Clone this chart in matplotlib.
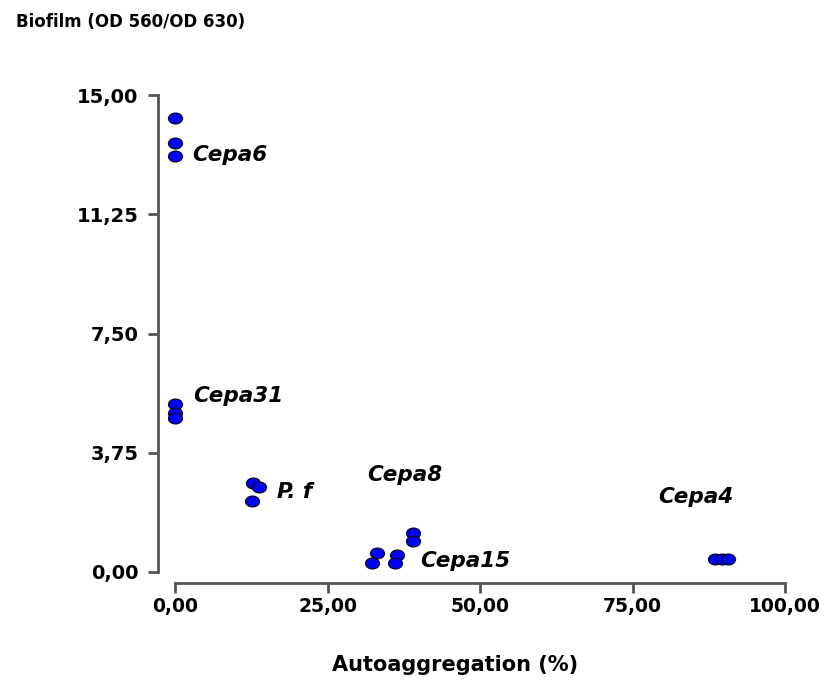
import numpy as np
import matplotlib
matplotlib.use('Agg')
import matplotlib.pyplot as plt
from matplotlib.path import Path
from matplotlib.transforms import Affine2D

plt.rcParams['font.family'] = ['DejaVu Sans']

##################################################################
# Data
##################################################################
cepa6_x = [0.0, 0.0, 0.0]
cepa6_y = [14.28, 13.49, 13.08]

cepa31_x = [0.0, 0.0, 0.0]
cepa31_y = [5.28, 5.00, 4.84]

pf_x = [12.8, 13.8, 12.6]
pf_y = [2.80, 2.67, 2.22]

cepa15_x = [33.1, 32.3, 36.4, 36.1]
cepa15_y = [0.60, 0.28, 0.53, 0.28]

cepa8_x = [39.0, 39.0]
cepa8_y = [1.23, 0.97]

cepa4_x = [88.5, 89.6, 90.6]
cepa4_y = [0.41, 0.41, 0.41]

labels = ['Cepa6', 'Cepa31', 'P. f', 'Cepa8', 'Cepa15', 'Cepa4']
label_x = [2.8, 3.0, 16.7, 31.5, 40.2, 79.2]
label_y = [13.11, 5.53, 2.52, 3.05, 0.35, 2.36]

xticks = [0, 25, 50, 75, 100]
yticks = [0, 3.75, 7.5, 11.25, 15]

##################################################################
# Plot figure
##################################################################
fig = plt.figure(figsize=(8.29, 6.91), dpi=100)
ax = fig.add_axes([158/829, 1-583/691, (790-158)/829, (583-90)/691])

# ellipse marker, wider than tall
ellipse = Path.unit_circle().transformed(Affine2D().scale(1.3, 1.0))

all_x = [cepa6_x, cepa31_x, pf_x, cepa15_x, cepa8_x, cepa4_x]
all_y = [cepa6_y, cepa31_y, pf_y, cepa15_y, cepa8_y, cepa4_y]
for xs, ys in zip(all_x, all_y):
    ax.plot(xs, ys, ls='none', marker=ellipse, ms=10, mfc='#0000ff',
            mec='#0a0a30', mew=1.0, zorder=3)

for lab, lx, ly in zip(labels, label_x, label_y):
    ax.text(lx, ly, lab, fontsize=15.5, fontstyle='italic', fontweight='bold',
            ha='left', va='center', color='black')

ax.set_xlim(-2.79, 100.8)
ax.set_ylim(-0.346, 15.16)

for s in ['top', 'right']:
    ax.spines[s].set_visible(False)
ax.spines['left'].set_bounds(0, 15)
ax.spines['bottom'].set_bounds(0, 100)
for s in ['left', 'bottom']:
    ax.spines[s].set_color('#555555')
    ax.spines[s].set_linewidth(2)

ax.set_xticks(xticks)
ax.set_yticks(yticks)
ax.set_xticklabels([f'{v:.2f}'.replace('.', ',') for v in xticks])
ax.set_yticklabels([f'{v:.2f}'.replace('.', ',') for v in yticks])
ax.tick_params(axis='both', length=7, width=2, color='#555555',
               labelsize=14)
ax.tick_params(axis='x', labelsize=13.5, pad=3)
ax.tick_params(axis='y', pad=7)
for t in ax.get_xticklabels() + ax.get_yticklabels():
    t.set_fontweight('bold')

fig.text(16/829, 1-22/691, 'Biofilm (OD 560/OD 630)', fontsize=12,
         fontweight='bold', ha='left', va='center')
fig.text(455/829, 1-665/691, 'Autoaggregation (%)', fontsize=15,
         fontweight='bold', ha='center', va='center')

plt.savefig('out.png', dpi=100)
